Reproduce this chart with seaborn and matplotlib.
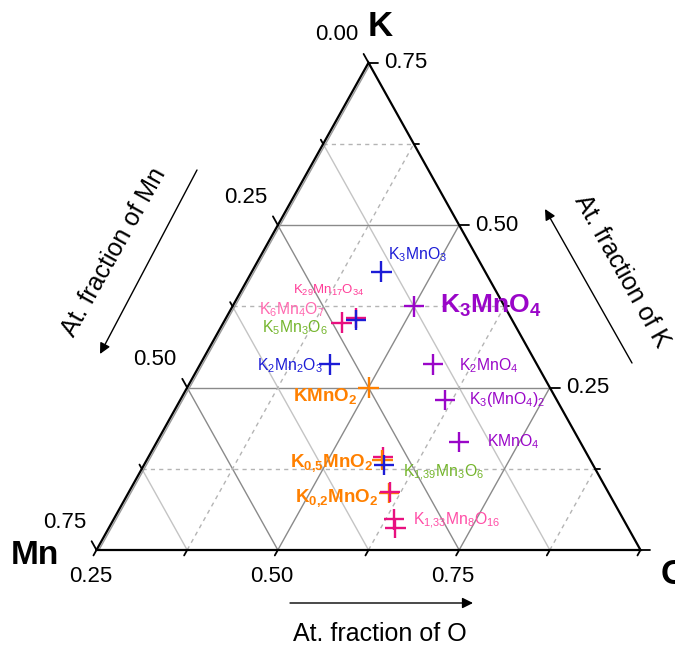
import numpy as np
import pandas as pd
import matplotlib
matplotlib.use("Agg")
import matplotlib.pyplot as plt
import seaborn as sns
from matplotlib import transforms

# ---------------------------------------------------------------- data
# atomic fractions of K and O for each plotted phase (Mn = 1 - K - O)
phase_K = [0.4286, 0.2857, 0.3750, 0.2857, 0.2308, 0.1667, 0.2500,
           0.3500, 0.3575, 0.3540, 0.1436, 0.1385, 0.1308,
           0.0873, 0.0893, 0.0472, 0.0334]
phase_O = [0.4286, 0.4286, 0.5000, 0.5714, 0.6154, 0.6667, 0.5000,
           0.4130, 0.4290, 0.4310, 0.5732, 0.5750, 0.5810,
           0.6097, 0.6100, 0.6366, 0.6455]
phase_family = ["blue", "blue", "violet", "violet", "violet", "violet", "orange",
                "pink", "pink", "blue", "pink", "orange", "blue",
                "orange", "pink", "pink", "pink"]

label_text = [r"K$_3$MnO$_3$", r"K$_2$Mn$_2$O$_3$", r"K$_\mathbf{3}$MnO$_\mathbf{4}$",
              r"K$_2$MnO$_4$", r"K$_3$(MnO$_4$)$_2$", r"KMnO$_4$",
              r"KMnO$_\mathbf{2}$", r"K$_{29}$Mn$_{17}$O$_{34}$",
              r"K$_6$Mn$_4$O$_7$", r"K$_5$Mn$_3$O$_6$",
              r"K$_\mathbf{0{,}5}$MnO$_\mathbf{2}$", r"K$_{1{,}39}$Mn$_3$O$_6$",
              r"K$_\mathbf{0{,}2}$MnO$_\mathbf{2}$", r"K$_{1{,}33}$Mn$_8$O$_{16}$"]
label_phase = [0, 1, 2, 3, 4, 5, 6, 7, 7, 7, 11, 12, 13, 15]

major_ticks = [0.25, 0.50, 0.75]
minor_step = 0.125

# ---------------------------------------------------------------- style
sns.set_theme(style="white")
plt.rcParams["font.family"] = ["Liberation Sans", "DejaVu Sans"]
plt.rcParams["text.color"] = "black"
plt.rcParams["mathtext.fontset"] = "custom"
plt.rcParams["mathtext.rm"] = "Liberation Sans"
plt.rcParams["mathtext.it"] = "Liberation Sans:italic"
plt.rcParams["mathtext.bf"] = "Liberation Sans:bold"

family_colors = {"blue": "#1c1cd6", "violet": "#9a06c8",
                 "orange": "#ff8000", "pink": "#e8107f"}

# label styling: colour, size, weight, alignment and offset (pixels) from its phase marker
label_style = [
    ("#1c1cd6", 11.3, "normal", "left", (7, 17)),
    ("#1c1cd6", 11.3, "normal", "right", (-7, -1)),
    ("#9a06c8", 19, "bold", "left", (26, 0)),
    ("#9a06c8", 11.3, "normal", "left", (26, -1.5)),
    ("#9a06c8", 11.3, "normal", "left", (24, 0.5)),
    ("#9a06c8", 11.3, "normal", "left", (28, 0)),
    ("#ff8000", 13.5, "bold", "right", (-11, -8)),
    ("#ff3d98", 9.5, "normal", "left", (-49, 32)),
    ("#ff6ab0", 11.3, "normal", "right", (-16.5, 12.5)),
    ("#74b52c", 11.3, "normal", "right", (-13.5, -5.5)),
    ("#ff8000", 13.5, "bold", "right", (-9, -3)),
    ("#74b52c", 11.3, "normal", "left", (19, -7.5)),
    ("#ff8000", 13.5, "bold", "right", (-10.5, -5)),
    ("#ff4da6", 11.3, "normal", "left", (19, -1.5)),
]

S3 = np.sqrt(3) / 2


def to_xy(K, O):
    """ternary (K, O) -> cartesian; bottom edge is K = 0, left edge is O = 0.25"""
    K = np.asarray(K, float)
    O = np.asarray(O, float)
    return (O - 0.25) + K / 2, K * S3


fig = plt.figure(figsize=(6.75, 6.48), dpi=100)
ax = fig.add_axes([0, 0, 1, 1])
sx = 544 / 0.75
sy = 487.3 / (0.75 * S3)
ax.set_xlim(-96.5 / sx, (675 - 96.5) / sx)
ax.set_ylim(-98 / sy, (648 - 98) / sy)
ax.axis("off")

# ---------------------------------------------------------------- grid
major_col, light_col, dash_col = "#8a8a8a", "#c4c4c4", "#b4b4b4"
levels = np.arange(minor_step, 0.75, minor_step)
for v in levels:
    is_major = any(np.isclose(v, major_ticks))
    # constant K (horizontal)
    xs, ys = to_xy([v, v], [0.25, 1 - v])
    ax.plot(xs, ys, color=major_col if is_major else dash_col,
            lw=1.0, ls="-" if is_major else (0, (3, 3)), zorder=1)
    # constant Mn
    xs, ys = to_xy([0, 0.75 - v], [1 - v, 0.25])
    ax.plot(xs, ys, color=major_col if is_major else light_col, lw=1.0, zorder=1)
for o in np.arange(0.25 + minor_step, 1.0, minor_step):
    is_major = any(np.isclose(o, [0.5, 0.75]))
    xs, ys = to_xy([0, 1 - o], [o, o])
    ax.plot(xs, ys, color=major_col if is_major else dash_col,
            lw=1.0, ls="-" if is_major else (0, (3, 3)), zorder=1)

# grey guide just inside the left edge
xs, ys = to_xy([0, 0.75], [0.25, 0.25])
shift = transforms.offset_copy(ax.transData, fig=fig, x=2.4, y=0, units="dots")
ax.plot(xs, ys, color="#9a9a9a", lw=1.0, transform=shift, zorder=2)

# triangle outline
xs, ys = to_xy([0, 0, 0.75, 0], [0.25, 1.0, 0.25, 0.25])
ax.plot(xs, ys, color="black", lw=1.6, zorder=3, solid_joinstyle="miter")

# ---------------------------------------------------------------- ticks
major_len, minor_len = 0.0135, 0.0065
dir_left = np.array([-0.375, -0.75 * S3]) / 0.75       # along left edge, towards Mn
dir_right = np.array([-0.375, 0.75 * S3]) / 0.75       # along right edge, towards K
tick_kw = dict(color="black", lw=1.3, zorder=3)
label_kw = dict(fontsize=16, color="black", textcoords="offset pixels",
                ha="center", va="center", annotation_clip=False)
for t in np.arange(0, 0.75 + 1e-9, minor_step):
    is_major = np.isclose(t, 0) or any(np.isclose(t, major_ticks))
    tl = major_len if is_major else minor_len
    # K axis (right edge), ticks pointing right
    x, y = to_xy(t, 1 - t)
    ax.plot([x, x + tl], [y, y], **tick_kw)
    if any(np.isclose(t, major_ticks)):
        ax.annotate(f"{t:.2f}", (x + major_len, y), xytext=(6, 0),
                    **{**label_kw, "ha": "left"})
    # Mn axis (left edge), ticks pointing up-left
    x, y = to_xy(0.75 - t, 0.25)
    ax.plot([x, x + tl * dir_right[0]], [y, y + tl * dir_right[1]], **tick_kw)
    if is_major:
        ax.annotate(f"{t:.2f}", (x, y), xytext=(-32, 28), **label_kw)
    # O axis (bottom edge), ticks pointing down-left
    o = 0.25 + t
    x, y = to_xy(0, o)
    ax.plot([x, x + 0.62 * major_len * dir_left[0]],
            [y, y + 0.62 * major_len * dir_left[1]], **tick_kw)
    if any(np.isclose(o, major_ticks)):
        ax.annotate(f"{o:.2f}", (x, y), xytext=(-6, -26), **label_kw)

# ---------------------------------------------------------------- phases
px, py = to_xy(phase_K, phase_O)
df = pd.DataFrame({"x": px, "y": py, "family": phase_family})
sns.scatterplot(data=df, x="x", y="y", hue="family", palette=family_colors,
                marker="+", s=215, linewidth=1.7, legend=False, ax=ax, zorder=5)

for text, idx, (col, size, weight, ha, off) in zip(label_text, label_phase, label_style):
    ax.annotate(text, (px[idx], py[idx]), xytext=off, textcoords="offset pixels",
                color=col, fontsize=size, fontweight=weight, ha=ha, va="center",
                zorder=6)

# ---------------------------------------------------------------- corner and axis titles
corner_kw = dict(xycoords="figure pixels", fontsize=25, fontweight="bold",
                 color="black", ha="center", va="center", annotation_clip=False)
ax.annotate("K", (380, 621), **corner_kw)
ax.annotate("Mn", (35, 92), **{**corner_kw, "fontsize": 24})
ax.annotate("O", (661, 73), **{**corner_kw, "ha": "left"})

title_kw = dict(xycoords="figure pixels", fontsize=18, color="black",
                ha="center", va="center")
ax.annotate("At. fraction of O", (380, 14), **title_kw)
ax.annotate("At. fraction of Mn", (114, 396), rotation=60.8, **title_kw)
ax.annotate("At. fraction of K", (622, 377), rotation=-60.8, **title_kw)

arrow_kw = dict(xycoords="figure pixels", textcoords="figure pixels",
                arrowprops=dict(arrowstyle="-|>", color="black", lw=1.0,
                                mutation_scale=16, shrinkA=0, shrinkB=0))
ax.annotate("", xy=(473, 45), xytext=(290, 45), **arrow_kw)
ax.annotate("", xy=(100, 294), xytext=(197, 478), **arrow_kw)
ax.annotate("", xy=(545, 439), xytext=(632, 285), **arrow_kw)

fig.savefig("out.png", dpi=100)
